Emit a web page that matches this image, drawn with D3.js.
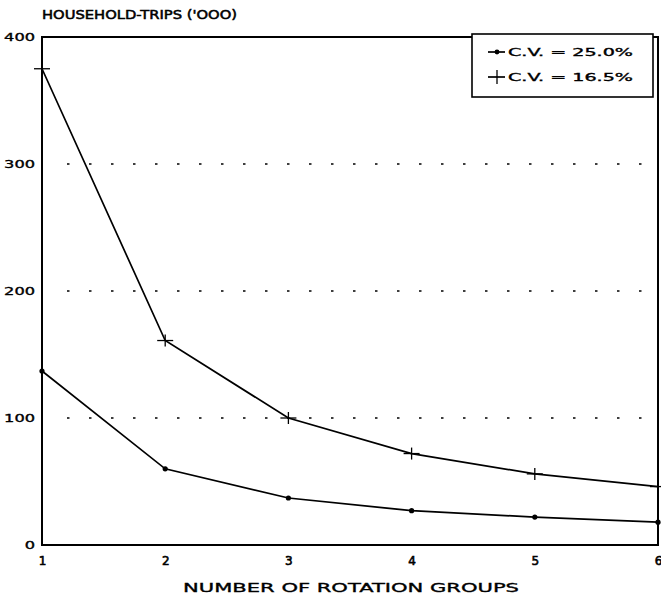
<!DOCTYPE html>
<html><head><meta charset="utf-8">
<script src="https://cdn.jsdelivr.net/npm/d3@7"></script>
<style>body{margin:0;background:#fff}svg{display:block}text{font-family:"DejaVu Sans",sans-serif;fill:#000;stroke:#000;stroke-width:0.35px}</style>
</head><body><svg id="c" width="661" height="601"></svg>
<script>
const groups = [1, 2, 3, 4, 5, 6];
const cv250 = [137, 60, 37, 27, 22, 18];
const cv165 = [375, 161, 100, 72, 56, 46];
const yTicks = [0, 100, 200, 300, 400];
const gridVals = [100, 200, 300];
const seriesNames = ["C.V. = 25.0%", "C.V. = 16.5%"];
const yTitle = "HOUSEHOLD-TRIPS ('OOO)";
const xTitle = "NUMBER OF ROTATION GROUPS";

const svg = d3.select("#c");
const L = 42, R = 658, T = 37, B = 545;
const x = d3.scaleLinear().domain([1, 6]).range([L, R]);
const y = d3.scaleLinear().domain([0, 400]).range([B, T]);

// grid
svg.append("g").selectAll("line").data(gridVals).join("line")
  .attr("x1", L + 25).attr("x2", R - 12)
  .attr("y1", d => y(d)).attr("y2", d => y(d))
  .attr("stroke", "#000").attr("stroke-width", 1.6).attr("stroke-dasharray", "2.5,19.5");

// axes (labels only)
const ya = svg.append("g").attr("transform", `translate(${L - 7},0)`)
  .call(d3.axisLeft(y).tickValues(yTicks).tickSize(0).tickPadding(0).tickFormat(d3.format("d")));
ya.select(".domain").remove();
ya.selectAll("text").style("font-size", "11px").style("font-family", "DejaVu Sans").attr("dy", "0.35em")
  .attr("textLength", d => String(d).length * 10.3).attr("lengthAdjust", "spacingAndGlyphs");

const xa = svg.append("g").attr("transform", `translate(0,${B + 11})`)
  .call(d3.axisBottom(x).tickValues(groups).tickSize(0).tickPadding(0).tickFormat(d3.format("d")));
xa.select(".domain").remove();
xa.selectAll("text").style("font-size", "12px").style("font-family", "DejaVu Sans").style("stroke-width", "0.6px");

// frame
svg.append("rect").attr("x", L).attr("y", T).attr("width", R - L).attr("height", B - T)
  .attr("fill", "none").attr("stroke", "#000").attr("stroke-width", 2);

// lines
const line = d3.line().x((d, i) => x(groups[i])).y(d => y(d));
svg.append("path").datum(cv250).attr("d", line).attr("fill", "none").attr("stroke", "#000").attr("stroke-width", 1.7);
svg.append("path").datum(cv165).attr("d", line).attr("fill", "none").attr("stroke", "#000").attr("stroke-width", 1.7);

svg.append("g").selectAll("circle").data(cv250).join("circle")
  .attr("cx", (d, i) => x(groups[i])).attr("cy", d => y(d)).attr("r", 2.6).attr("fill", "#000");
const plus = svg.append("g").attr("stroke", "#000").attr("stroke-width", 1.3);
cv165.forEach((d, i) => {
  const cx = x(groups[i]), cy = y(d);
  plus.append("line").attr("x1", cx - 8).attr("x2", cx + 8).attr("y1", cy).attr("y2", cy);
  plus.append("line").attr("x1", cx).attr("x2", cx).attr("y1", cy - 6).attr("y2", cy + 6);
});

// legend
const lg = svg.append("g");
lg.append("rect").attr("x", 472).attr("y", 34).attr("width", 181).attr("height", 63)
  .attr("fill", "#fff").attr("stroke", "#000").attr("stroke-width", 1.6);
const rows = [52, 77];
rows.forEach((ry, i) => {
  lg.append("line").attr("x1", 488).attr("x2", 505).attr("y1", ry).attr("y2", ry).attr("stroke", "#000").attr("stroke-width", 1.7);
  if (i === 0) lg.append("circle").attr("cx", 497).attr("cy", ry).attr("r", 2.4).attr("fill", "#000");
  else lg.append("line").attr("x1", 497).attr("x2", 497).attr("y1", ry - 7).attr("y2", ry + 7).attr("stroke", "#000").attr("stroke-width", 1.3);
  lg.append("text").attr("x", 508).attr("y", ry).attr("dy", "0.35em")
    .style("font-size", "10.5px").attr("textLength", 125).attr("lengthAdjust", "spacingAndGlyphs").text(seriesNames[i]);
});

// titles
svg.append("text").attr("x", 42).attr("y", 19).style("font-size", "13px").style("stroke-width", "0.55px")
  .attr("textLength", 195).attr("lengthAdjust", "spacingAndGlyphs").text(yTitle);
svg.append("text").attr("x", 183).attr("y", 592).style("font-size", "13px")
  .attr("textLength", 336).attr("lengthAdjust", "spacingAndGlyphs").text(xTitle);
</script></body></html>
